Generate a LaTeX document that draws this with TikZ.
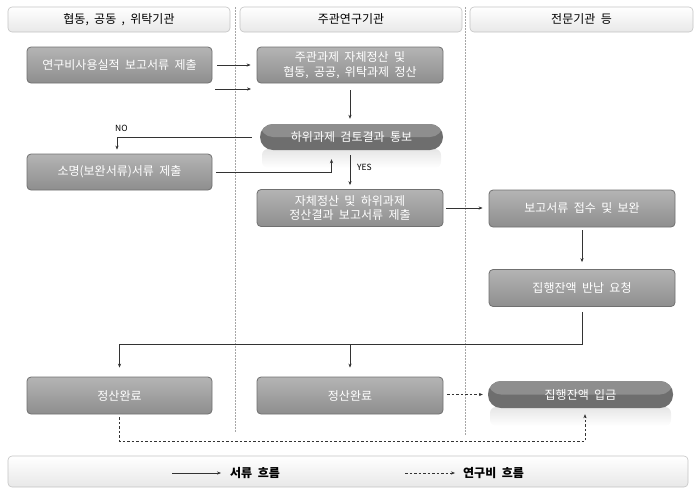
\documentclass[tikz,border=0pt]{standalone}
\usepackage{fontspec}
\setmainfont[WordSpace=2]{Noto Sans CJK KR}
\usetikzlibrary{arrows.meta,calc}
\definecolor{boxtop}{HTML}{B4B4B4}
\definecolor{boxbot}{HTML}{8E8E8E}
\definecolor{boxline}{HTML}{707070}
\definecolor{pilllight}{HTML}{8E8E8E}
\definecolor{pilldark}{HTML}{6E6E6E}
\definecolor{hdrline}{HTML}{C4C4C4}
\definecolor{lnk}{HTML}{333333}
\tikzset{
  proc/.style={rounded corners=4pt, draw=boxline, line width=0.8pt, top color=boxtop, bottom color=boxbot,
    minimum width=185pt, minimum height=36pt, text=white, font=\fontsize{12}{14.5}\selectfont, align=center, inner sep=0pt},
  pill/.style={rounded corners=13pt, fill=pilldark, minimum width=184pt, minimum height=26pt, text=white,
    font=\fontsize{12}{14.5}\selectfont, inner sep=0pt,
    path picture={\fill[pilllight] (path picture bounding box.north west) rectangle (path picture bounding box.east);}},
  hdr/.style={rounded corners=4pt, draw=hdrline, line width=0.6pt, top color=white, bottom color=black!9,
    minimum height=25pt, font=\fontsize{12}{14.5}\selectfont, inner sep=0pt},
  lane/.style={draw=black!35, line width=0.6pt, dash pattern=on 1.5pt off 1.5pt},
  arr/.style={draw=lnk, line width=0.6pt, -{Stealth[length=4pt,width=3.2pt]}},
  darr/.style={arr, dash pattern=on 2.5pt off 2pt},
  lbl/.style={font=\fontsize{8.5}{10}\selectfont, inner sep=0pt},
  legtxt/.style={font=\bfseries\fontsize{12}{14.5}\selectfont, inner sep=0pt, anchor=west},
}
\begin{document}
\begin{tikzpicture}[x=1pt,y=-1pt]
\useasboundingbox (0,0) rectangle (695,493);
% lanes
\draw[lane] (235,7) -- (235,433);
\draw[lane] (465.5,7) -- (465.5,435);
% headers
\node[hdr, minimum width=222pt] (h1) at (119,19.5) {협동, 공동 , 위탁기관};
\node[hdr, minimum width=222pt] (h2) at (351,19.5) {주관연구기관};
\node[hdr, minimum width=223pt] (h3) at (581.5,19.5) {전문기관 등};
% reflections
\shade[top color=black!10, bottom color=white, rounded corners=6pt] (262,149) rectangle (441,168);
\shade[top color=black!10, bottom color=white, rounded corners=6pt] (490,407) rectangle (671,426);
% boxes
\node[proc] (b1) at (119.5,65) {연구비사용실적 보고서류 제출};
\node[proc] (b2) at (119.5,172) {소명(보완서류)서류 제출};
\node[proc, minimum width=186pt] (m1) at (350,65) {주관과제 자체정산 및\\협동, 공공, 위탁과제 정산};
\node[pill, minimum width=183pt] (pl) at (351.5,137) {하위과제 검토결과 통보};
\node[proc, minimum width=186pt, minimum height=37pt] (m2) at (350,208) {자체정산 및 하위과제\\정산결과 보고서류 제출};
\node[proc, minimum width=186pt, minimum height=37pt] (r1) at (582,208.5) {보고서류 접수 및 보완};
\node[proc, minimum width=186pt, minimum height=37pt] (r2) at (582,288) {집행잔액 반납 요청};
\node[proc, minimum height=37pt] (f1) at (119.5,395.5) {정산완료};
\node[proc, minimum width=186pt, minimum height=37pt] (f2) at (350,395.5) {정산완료};
\node[pill, minimum width=185pt, minimum height=27pt] (fin) at (580.5,394.5) {집행잔액 입금};
% connectors
\draw[arr] ([xshift=5pt]b1.east) -- ([xshift=-6pt]b1.east -| m1.west);
\coordinate (s2) at (215,89);
\coordinate (e2) at (251,89);
\draw[arr] (s2) -- (e2);
\draw[arr] ([yshift=-7pt]m1.south) -- ([yshift=5pt]m1.south |- pl.north);
\draw[arr] ([xshift=-8pt]pl.west) -| ([xshift=-2.5pt,yshift=4pt]b2.north);
\node[lbl, anchor=south west] (no) at (115,132) {NO};
\draw[arr] ([xshift=4pt]b2.east) -| ([xshift=-20pt,yshift=-9pt]pl.south);
\draw[arr] ([yshift=-5pt]pl.south -| m2.north) -- ([yshift=4pt]m2.north);
\node[lbl, anchor=west] (yes) at (357,167) {YES};
\draw[arr] ([xshift=3pt]m2.east) -- ([xshift=-6pt]m2.east -| r1.west);
\draw[arr] ([yshift=-3pt]r1.south) -- ([yshift=7pt]r2.north);
\coordinate (j1) at ([yshift=32pt]f1.north);
\draw[arr] ([yshift=-5pt]r2.south) |- (j1) -- ([yshift=9pt]f1.north);
\draw[arr] (j1 -| f2.north) -- ([yshift=9pt]f2.north);
\draw[darr] ([xshift=4pt]f2.east |- fin.west) -- ([xshift=-5pt]fin.west);
\draw[darr] ([yshift=-3pt]f1.south) |- ([xshift=4.5pt,yshift=-33pt]fin.south) -- ([xshift=4.5pt,yshift=-6pt]fin.south);
% legend
\node[hdr, minimum width=680pt, minimum height=31pt] (leg) at (348,471.5) {};
\coordinate (l1s) at (172,473);
\coordinate (l1e) at (221,473);
\draw[arr] (l1s) -- (l1e);
\node[legtxt] (t1) at (230,473) {서류 흐름};
\coordinate (l2s) at (405,473);
\coordinate (l2e) at (455,473);
\draw[darr] (l2s) -- (l2e);
\node[legtxt] (t2) at (463,473) {연구비 흐름};
\end{tikzpicture}
\end{document}
